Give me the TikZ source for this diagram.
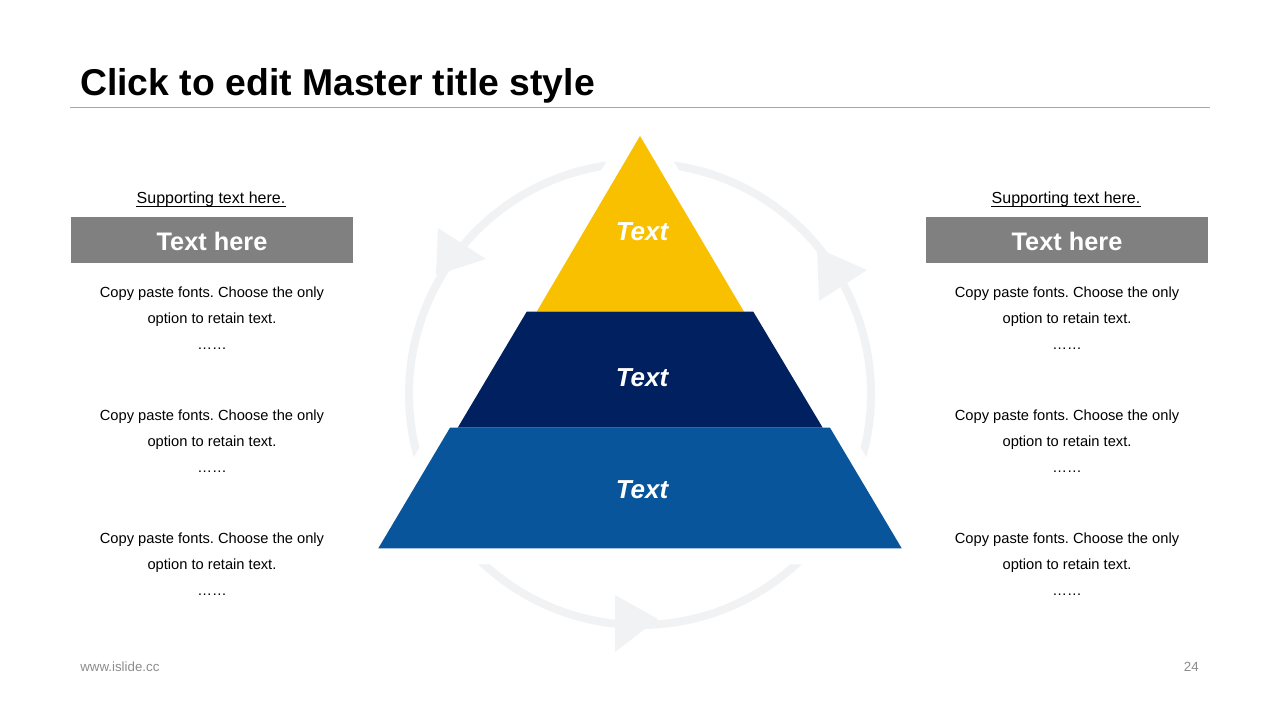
\documentclass[tikz,border=0pt]{standalone}
\usepackage{fontspec}
\setmainfont{Liberation Sans}
\frenchspacing
\definecolor{ringgray}{HTML}{F1F2F4}
\definecolor{pyrYellow}{HTML}{F9C000}
\definecolor{pyrNavy}{HTML}{002060}
\definecolor{pyrBlue}{HTML}{09559B}
\definecolor{boxgray}{HTML}{808080}
\definecolor{rulegray}{HTML}{A6A6A6}
\definecolor{footgray}{HTML}{8C8C8C}
\begin{document}
\begin{tikzpicture}[x=0.75pt,y=-0.75pt,
  ring/.style={draw=ringgray,line width=6pt},
  headtri/.style={fill=ringgray},
  body/.style={anchor=base,inner sep=0pt,font=\fontsize{11}{13}\selectfont,text=black},
  supp/.style={anchor=base,inner sep=0pt,font=\fontsize{12}{14}\selectfont,text=black},
  grayhead/.style={fill=boxgray,minimum width=212pt,minimum height=34.5pt,inner sep=0pt},
  headtext/.style={anchor=base,inner sep=0pt,font=\fontsize{19}{22}\selectfont\bfseries,text=white},
  pyrtext/.style={anchor=base,inner sep=0pt,font=\fontsize{19.5}{22}\selectfont\bfseries\itshape,text=white},
  foot/.style={inner sep=0pt,font=\fontsize{10}{12}\selectfont,text=footgray}]
\useasboundingbox (0,0) rectangle (1280,720);

% title and rule
\node[anchor=base west,inner sep=0pt,font=\fontsize{28}{34}\selectfont\bfseries] (title) at (80,96) {Click to edit Master title style};
\coordinate (ruleL) at (70,108);
\coordinate (ruleR) at (1210,108);
\draw[rulegray,line width=0.75pt] (ruleL) -- (ruleR);

% ring
\coordinate (ringC) at (640,394);
\draw[ring] (ringC) circle[radius=231];
% halo around pyramid that cuts the ring
\fill[white,draw=white,line width=24pt,line join=round]
  (640,136) -- (744,311.7) -- (753.3,311.7) -- (822.7,427.7) -- (830,427.7) -- (901.7,548.3)
  -- (378.3,548.3) -- (450,427.7) -- (457.7,427.7) -- (526.7,311.7) -- (536.7,311.7) -- cycle;
% arrowheads
\fill[headtri] (438,228) -- (486,259) -- (436,275) -- cycle;
\fill[headtri] (817,248) -- (867,270) -- (819,301) -- cycle;
\fill[headtri] (615,595) -- (658,619) -- (615,652) -- cycle;

% pyramid
\fill[pyrYellow] (640,136) -- (744,311.7) -- (536.7,311.7) -- cycle;
\fill[pyrNavy] (526.7,311.7) -- (753.3,311.7) -- (822.7,427.7) -- (457.7,427.7) -- cycle;
\fill[pyrBlue] (450,427.7) -- (830,427.7) -- (901.7,548.3) -- (378.3,548.3) -- cycle;
\node[pyrtext] (t1) at (642,240) {Text};
\node[pyrtext] (t2) at (642,386) {Text};
\node[pyrtext] (t3) at (642,498) {Text};

% side columns
\foreach \side/\cx in {L/212,R/1067} {
  \node[supp] (sup\side) at (\cx-1,204) {Supporting text here.};
  \draw[black,line width=0.75pt] ([yshift=-2pt]sup\side.base west) -- ([yshift=-2pt]sup\side.base east);
  \node[grayhead] (box\side) at (\cx,239.7) {};
  \node[headtext] (head\side) at (\cx,250) {Text here};
  \foreach \i/\by in {1/297,2/420,3/543} {
    \node[body] (b\side\i a) at (\cx,\by) {Copy paste fonts. Choose the only};
    \node[body] (b\side\i b) at (\cx,\by+26) {option to retain text.};
    \node[body] (b\side\i c) at (\cx,\by+52) {……};
  }
}

% footer
\node[foot,anchor=base west] (url) at (80,671) {www.islide.cc};
\node[foot,anchor=base east] (pagenum) at (1199,671) {24};
\end{tikzpicture}
\end{document}
